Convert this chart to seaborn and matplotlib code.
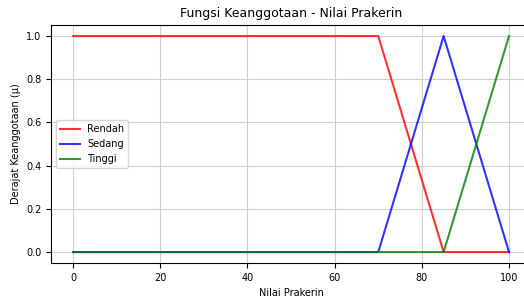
import pandas as pd
import seaborn as sns
import matplotlib.pyplot as plt

# membership function breakpoints
x_rendah = [0, 70, 85, 100]
y_rendah = [1, 1, 0, 0]
x_sedang = [0, 70, 85, 100]
y_sedang = [0, 0, 1, 0]
x_tinggi = [0, 85, 100]
y_tinggi = [0, 0, 1]

df = pd.concat([
    pd.DataFrame({"x": x_rendah, "mu": y_rendah, "label": "Rendah"}),
    pd.DataFrame({"x": x_sedang, "mu": y_sedang, "label": "Sedang"}),
    pd.DataFrame({"x": x_tinggi, "mu": y_tinggi, "label": "Tinggi"}),
])

plt.rcParams["font.size"] = 7
fig = plt.figure(figsize=(5.24, 2.97), dpi=100)
ax = fig.add_axes([0.098, 0.115, 0.915, 0.80])
sns.lineplot(data=df, x="x", y="mu", hue="label", sort=False, estimator=None,
             palette={"Rendah": "red", "Sedang": "blue", "Tinggi": "green"},
             linewidth=1.5, alpha=0.8, ax=ax)
ax.set_xlim(-5, 105)
ax.set_ylim(-0.05, 1.05)
ax.set_xticks([0, 20, 40, 60, 80, 100])
ax.set_yticks([0.0, 0.2, 0.4, 0.6, 0.8, 1.0])
ax.spines["right"].set_visible(False)
ax.grid(True, color="#d0d0d0", linewidth=0.8)
ax.set_title("Fungsi Keanggotaan - Nilai Prakerin", fontsize=9)
ax.set_xlabel("Nilai Prakerin", fontsize=7)
ax.set_ylabel("Derajat Keanggotaan (μ)", fontsize=7)
ax.legend(loc="center left", fontsize=7, title=None)
plt.savefig("out.png", dpi=100)
